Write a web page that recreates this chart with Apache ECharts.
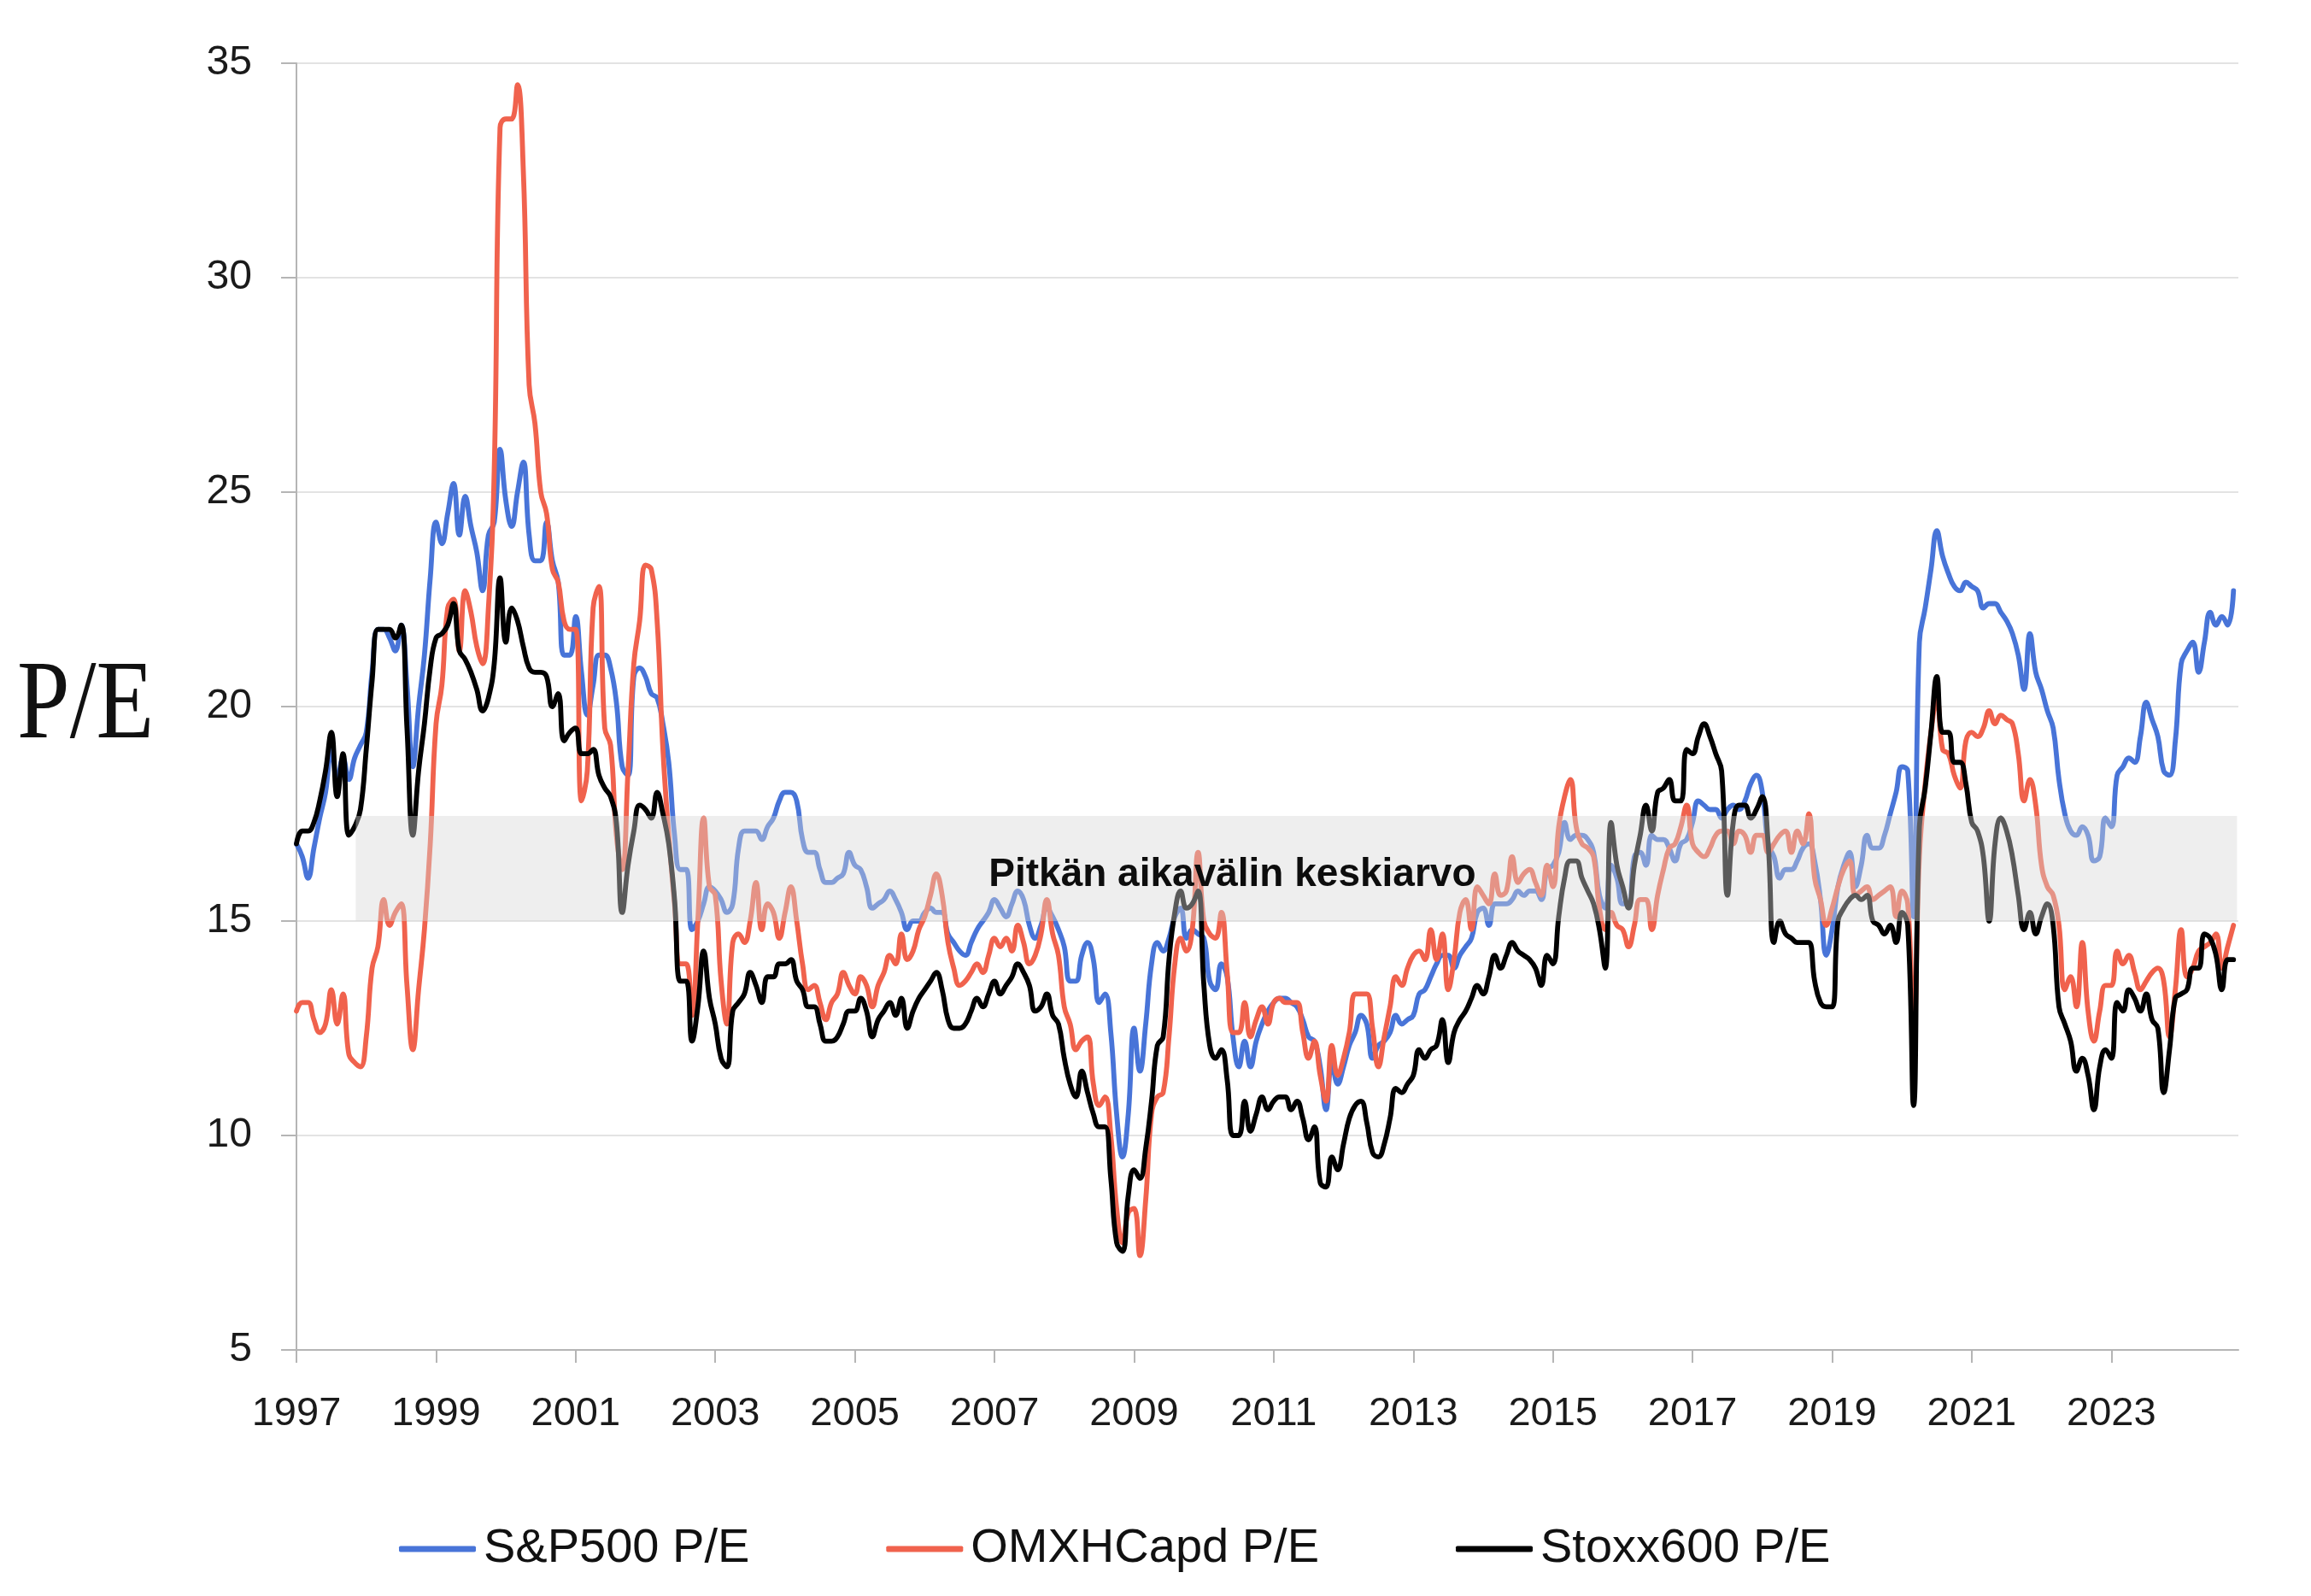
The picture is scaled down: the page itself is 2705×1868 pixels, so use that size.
<!DOCTYPE html>
<html>
<head>
<meta charset="utf-8">
<script src="https://cdn.jsdelivr.net/npm/echarts@6/dist/echarts.min.js"></script>
<style>
html,body{margin:0;padding:0;background:#fff;}
#chart{width:2705px;height:1868px;}
</style>
</head>
<body>
<div id="chart"></div>
<script>
// Monthly P/E values, Jan 1997 .. Oct 2024
const startYear = 1997;
const sp500 = [
16.8,16.5,16.0,16.7,17.4,18.0,19.0,18.3,18.8,18.3,18.8,19.1,
19.4,20.8,21.8,21.8,21.6,21.3,21.9,20.5,18.6,20.0,21.2,23.0,
24.3,23.8,24.5,25.2,24.0,24.9,24.2,23.6,22.7,24.0,24.3,26.0,
24.8,24.2,25.0,25.7,24.0,23.4,23.4,24.3,23.4,22.9,21.2,21.2,
22.1,20.8,19.8,20.5,21.2,21.2,20.9,20.1,18.6,18.4,20.7,20.9,
20.7,20.3,20.2,19.6,18.7,17.0,16.2,16.2,14.8,15.0,15.4,15.8,
15.7,15.5,15.2,15.4,16.7,17.1,17.1,17.1,16.9,17.2,17.4,17.8,
18.0,18.0,17.8,16.9,16.6,16.6,16.2,15.9,15.9,16.0,16.1,16.6,
16.3,16.2,15.8,15.3,15.4,15.5,15.7,15.5,15.2,14.8,15.0,15.0,
15.2,15.3,15.2,15.2,14.7,14.5,14.3,14.2,14.5,14.8,15.0,15.2,
15.5,15.3,15.1,15.4,15.7,15.5,14.9,14.6,14.9,15.3,15.1,14.8,
14.4,13.6,13.6,14.2,14.5,14.1,13.1,13.3,12.4,10.5,9.5,10.5,
12.5,11.5,12.6,14.0,14.5,14.3,14.6,15.1,15.3,14.6,14.8,14.7,
14.6,13.6,13.4,14.0,13.7,12.3,11.6,12.2,11.6,12.2,12.6,12.9,
13.1,13.2,13.2,13.1,13.0,12.7,12.3,12.2,11.6,10.6,11.7,11.2,
11.6,12.1,12.4,12.8,12.6,11.8,12.1,12.2,12.4,12.8,12.6,12.7,
12.8,13.3,13.4,13.7,14.0,14.2,14.2,13.9,14.2,14.4,14.6,15.2,
15.3,14.9,15.4,15.4,15.4,15.5,15.7,15.6,15.7,15.7,15.5,16.2,
16.3,16.6,17.3,16.9,17.0,17.0,16.9,16.6,15.6,15.3,16.3,16.0,
15.4,15.4,16.5,16.6,16.3,17.0,16.9,16.9,16.7,16.4,16.8,16.9,
17.3,17.8,17.7,17.6,17.6,17.4,17.6,17.7,17.6,17.8,18.2,18.4,
18.0,16.8,16.5,16.0,16.2,16.2,16.4,16.7,16.8,16.4,15.5,14.2,
14.8,15.8,16.3,16.6,15.8,16.3,17.0,16.7,16.7,17.0,17.5,18.0,
18.6,18.5,15.1,21.5,22.3,23.2,24.1,23.5,23.1,22.8,22.7,22.9,
22.8,22.7,22.3,22.4,22.4,22.2,22.0,21.7,21.2,20.4,21.7,20.8,
20.4,19.9,19.5,18.3,17.5,17.1,17.0,17.2,17.0,16.4,16.5,17.4,
17.2,18.4,18.6,18.8,18.7,19.3,20.1,19.7,19.3,18.5,18.4,19.2,
21.0,21.3,21.5,20.8,21.5,22.2,21.9,22.1,21.9,22.7
];
const omxh = [
12.9,13.1,13.1,12.7,12.4,12.6,13.4,12.6,13.3,11.9,11.7,11.6,
12.3,13.9,14.4,15.5,14.9,15.2,15.4,13.5,12.0,13.4,14.8,16.8,
19.6,20.5,22.3,22.5,21.3,22.7,22.2,21.4,21.0,22.3,25.5,33.5,
33.7,33.7,34.5,32.5,27.5,26.6,25.0,24.5,23.2,22.9,22.0,21.8,
21.8,17.8,18.5,22.3,22.8,19.5,19.1,17.0,16.2,18.5,21.0,22.0,
23.3,23.2,22.0,19.0,17.0,15.4,14.0,14.0,12.8,15.0,17.4,15.8,
15.6,13.6,12.6,14.5,14.7,14.5,15.0,15.9,14.8,15.4,15.2,14.6,
15.2,15.8,15.0,14.0,13.4,13.5,13.1,12.7,13.1,13.3,13.8,13.5,
13.3,13.7,13.5,13.0,13.5,13.8,14.2,14.0,14.7,14.1,14.3,14.8,
15.1,15.6,16.1,15.6,14.5,13.9,13.5,13.6,13.8,14.0,13.8,14.2,
14.6,14.4,14.6,14.3,14.9,14.5,14.0,14.2,14.7,15.5,14.7,14.2,
13.0,12.6,12.0,12.2,12.3,11.2,10.7,10.9,10.0,8.3,7.5,8.2,
8.3,7.2,8.5,10.5,10.9,11.0,12.3,14.0,14.6,14.3,14.8,16.6,
15.0,14.7,14.6,15.2,13.8,12.4,12.4,13.1,12.3,12.7,13.0,12.6,
13.1,13.2,13.1,13.1,13.1,12.4,11.8,12.2,11.4,10.8,12.1,11.4,
11.8,12.4,13.3,13.3,13.3,12.5,11.6,12.3,13.0,13.7,13.5,13.9,
14.2,14.3,14.1,14.8,14.1,14.7,13.4,14.1,15.2,15.5,14.8,15.8,
15.6,15.4,16.1,15.6,15.7,16.5,15.9,16.1,16.2,15.9,15.6,16.3,
15.8,17.2,17.9,18.3,17.2,16.8,16.7,16.5,15.3,14.8,15.2,14.9,
14.8,14.4,14.9,15.5,15.5,14.8,15.6,16.2,16.7,16.8,17.2,17.7,
16.8,16.6,16.5,16.7,17.0,17.1,17.1,16.8,17.1,17.0,16.6,17.0,
17.0,16.6,16.8,17.0,17.1,16.6,17.1,16.8,17.5,16.0,15.5,14.9,
15.3,15.8,16.2,16.4,15.6,15.7,15.8,15.5,15.6,15.7,15.8,15.1,
15.7,15.4,12.4,16.5,18.2,19.4,20.2,19.0,18.9,18.4,18.1,19.2,
19.4,19.3,19.5,19.9,19.6,19.8,19.7,19.6,18.9,17.8,18.3,17.7,
16.3,15.8,15.6,14.9,13.4,13.7,13.0,14.5,12.9,12.2,12.9,13.5,
13.5,14.3,14.0,14.2,13.8,13.4,13.6,13.8,13.9,13.6,12.3,13.4,
14.8,13.7,13.9,14.3,14.4,14.5,14.7,13.9,14.4,14.9
];
const stoxx600 = [
16.8,17.1,17.1,17.3,17.8,18.5,19.4,17.9,18.9,17.0,17.2,17.6,
19.0,20.6,21.8,21.8,21.8,21.6,21.9,19.5,17.0,18.5,19.6,20.9,
21.6,21.7,21.9,22.4,21.3,21.1,20.8,20.4,19.9,20.2,21.0,23.0,
21.5,22.3,22.0,21.4,20.9,20.8,20.8,20.7,20.0,20.3,19.2,19.4,
19.5,18.9,18.9,19.0,18.4,18.1,17.9,17.3,15.2,16.3,17.1,17.7,
17.6,17.4,18.0,17.5,16.8,15.5,13.6,13.6,12.2,13.0,14.3,13.2,
12.6,11.8,11.6,12.9,13.1,13.3,13.8,13.5,13.1,13.7,13.7,14.0,
14.0,14.1,13.6,13.4,13.0,13.0,12.6,12.2,12.2,12.3,12.6,12.9,
12.9,13.2,12.9,12.3,12.7,12.9,13.1,12.8,13.2,12.5,12.9,13.2,
13.4,13.6,13.8,13.4,12.7,12.5,12.5,12.6,12.9,13.2,13.0,13.3,
13.6,13.3,13.5,13.7,14.0,13.8,13.5,12.9,13.0,13.3,12.8,12.6,
11.8,11.2,10.9,11.5,11.0,10.5,10.2,10.2,9.0,7.5,7.3,8.6,
9.2,9.0,9.7,10.8,12.1,12.3,14.1,15.2,15.7,15.3,15.4,15.7,
13.5,12.1,11.8,12.0,11.3,10.0,10.0,10.8,10.1,10.5,10.9,10.6,
10.8,10.9,10.9,10.6,10.8,10.4,9.9,10.2,8.9,8.8,9.5,9.2,
9.8,10.4,10.7,10.8,10.3,9.6,9.5,9.8,10.4,11.1,11.0,11.2,
11.4,12.0,11.8,12.0,12.1,12.7,11.7,12.4,12.7,12.9,13.2,13.5,
13.3,13.7,14.2,13.9,14.2,14.5,14.3,14.2,14.1,13.9,13.5,14.2,
14.0,15.1,16.0,16.4,16.4,16.0,15.7,15.4,14.8,13.9,17.3,16.3,
15.8,15.3,16.3,17.0,17.7,17.1,18.0,18.1,18.3,17.8,17.8,19.0,
18.9,19.3,19.6,19.3,18.9,18.5,15.6,17.3,17.7,17.7,17.4,17.6,
17.9,16.8,14.5,15.0,14.7,14.6,14.5,14.5,14.5,13.6,13.1,13.0,
13.0,15.0,15.3,15.5,15.6,15.5,15.6,15.0,14.9,14.7,14.9,14.5,
15.2,14.9,10.7,17.2,18.1,19.4,20.7,19.4,19.4,18.7,18.7,18.2,
17.3,17.1,16.5,15.0,16.8,17.4,17.1,16.5,15.6,14.8,15.2,14.7,
15.1,15.4,14.9,13.0,12.6,12.2,11.5,11.8,11.4,10.6,11.6,12.0,
11.8,13.1,12.9,13.4,13.2,12.9,13.3,12.7,12.5,11.0,12.0,13.2,
13.3,13.4,13.9,13.9,14.7,14.6,14.2,13.4,14.1,14.1
];
const seriesNames = ['S&P500 P/E', 'OMXHCapd P/E', 'Stoxx600 P/E'];
const yTicks = [5, 10, 15, 20, 25, 30, 35];
const xTickYears = [1997,1999,2001,2003,2005,2007,2009,2011,2013,2015,2017,2019,2021,2023];
// long-term average band (P/E range) and its start/end (years since 1997)
const bandLow = 15, bandHigh = 17.45, bandStart = 0.85, bandEnd = 27.8;
const bandLabel = 'Pitkän aikavälin keskiarvo';

function toPairs(arr) { return arr.map((v, i) => [i / 12, v]); }

const chart = echarts.init(document.getElementById('chart'), null, {renderer: 'canvas'});
const FONT = 'Liberation Sans';
const lineSeries = (name, data, color, z) => ({
  name, type: 'line', data: toPairs(data), smooth: 0.45, symbol: 'none', z,
  lineStyle: {width: 5.8, color, cap: 'round', join: 'round'}, itemStyle: {color},
  emphasis: {disabled: true}
});
chart.setOption({
  animation: false,
  backgroundColor: '#ffffff',
  textStyle: {fontFamily: FONT},
  grid: {left: 347, right: 85, top: 74, bottom: 288, containLabel: false},
  xAxis: {
    type: 'value', min: 0, max: 27.82,
    axisLine: {show: true, lineStyle: {color: '#b5b5b5', width: 2}},
    axisTick: {show: true, length: 15, lineStyle: {color: '#b5b5b5', width: 2},
      customValues: xTickYears.map(y => y - startYear)},
    axisLabel: {show: true, margin: 52, fontSize: 47, color: '#1a1a1a', fontFamily: FONT,
      customValues: xTickYears.map(y => y - startYear),
      formatter: v => String(Math.round(v) + startYear)},
    splitLine: {show: false}
  },
  yAxis: {
    type: 'value', min: 5, max: 35, interval: 5,
    axisLine: {show: true, lineStyle: {color: '#b5b5b5', width: 2}},
    axisTick: {show: true, length: 18, lineStyle: {color: '#b5b5b5', width: 2}},
    axisLabel: {margin: 52, fontSize: 48, color: '#1a1a1a', fontFamily: FONT},
    splitLine: {show: true, lineStyle: {color: '#e3e3e3', width: 2}}
  },
  legend: {
    data: seriesNames, left: 462, top: 1780, itemWidth: 90, itemHeight: 7, itemGap: 160,
    icon: 'roundRect',
    textStyle: {fontSize: 56, color: '#111', fontFamily: FONT, padding: [0, 0, 0, 4]}
  },
  graphic: [{
    type: 'text', x: 20, y: 828, scaleX: 0.84,
    style: {text: 'P/E', fontSize: 132, fontFamily: 'Liberation Serif', fill: '#111',
      align: 'left', verticalAlign: 'middle'}
  }],
  series: [
    lineSeries(seriesNames[0], sp500, '#4874d8', 2),
    lineSeries(seriesNames[1], omxh, '#f0624d', 3),
    lineSeries(seriesNames[2], stoxx600, '#000000', 4),
    {
      name: 'band', type: 'line', data: [], z: 10, silent: true,
      markArea: {
        silent: true, z: 10,
        itemStyle: {color: 'rgba(215,215,215,0.42)'},
        label: {show: true, position: 'inside', offset: [-75, 8], fontSize: 46, fontWeight: 'bold',
          color: '#0d0d0d', fontFamily: FONT},
        emphasis: {disabled: true},
        data: [[{name: bandLabel, xAxis: bandStart, yAxis: bandLow}, {xAxis: bandEnd, yAxis: bandHigh}]]
      }
    }
  ]
});
</script>
</body>
</html>
